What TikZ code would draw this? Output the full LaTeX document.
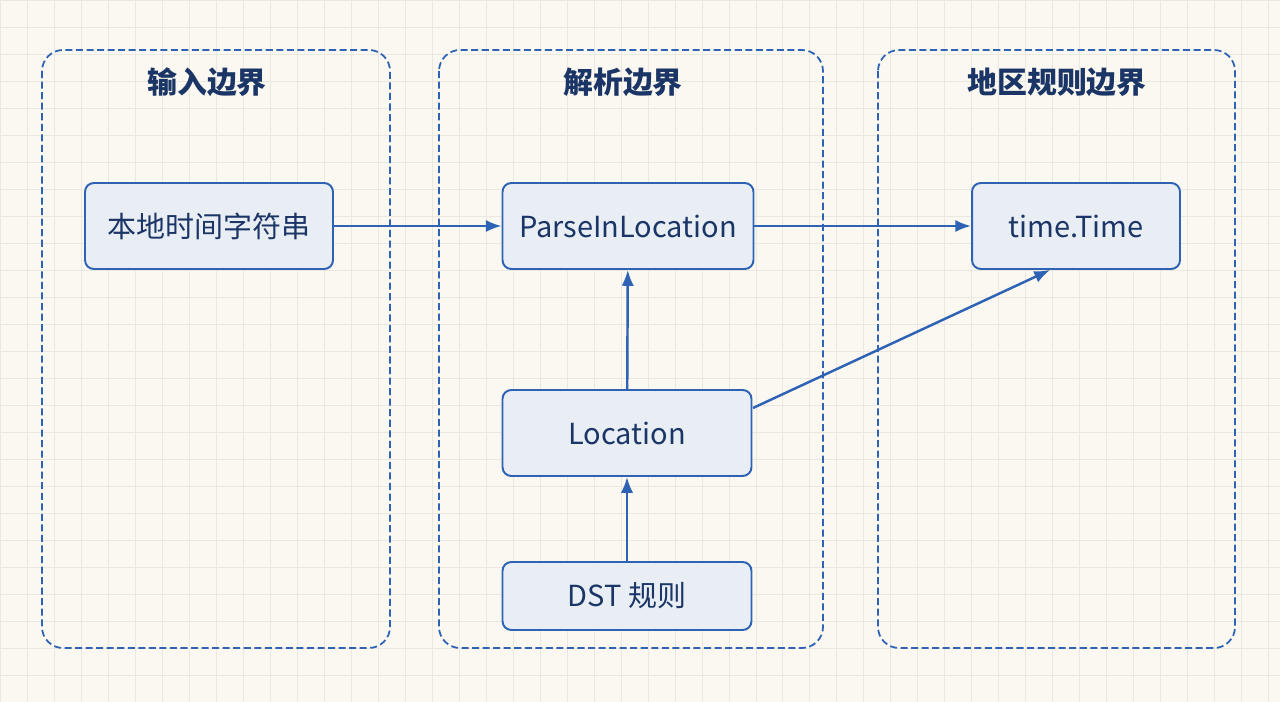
\documentclass[tikz,border=0pt]{standalone}
\usepackage{fontspec}
\setmainfont{Noto Sans CJK SC}
\usetikzlibrary{positioning,arrows.meta}
\definecolor{paper}{HTML}{FAF8F0}
\definecolor{gridc}{HTML}{EAE8E0}
\definecolor{edge}{HTML}{2E62B4}
\definecolor{boxfill}{HTML}{E9EEF5}
\definecolor{ink}{HTML}{1B3566}
\begin{document}
\begin{tikzpicture}[x=0.02cm,y=-0.02cm]
    \tikzset{zone/.style={draw=edge, dash pattern=on 4pt off 2pt, line width=1pt, rounded corners=12pt},
      title/.style={text=ink, font=\bfseries\fontsize{17}{20}\selectfont},
      stage/.style={draw=edge, fill=boxfill, line width=1.1pt, rounded corners=5pt, text=ink,
        font=\fontsize{16.5}{20}\selectfont, minimum height=1.72cm},
      myarrow/.style={-{Latex[length=9pt,width=7pt]}, edge, line width=1.4pt}}

    \fill[paper] (0,0) rectangle (1280,702);
    \useasboundingbox (0,0) rectangle (1280,702);
    \draw[gridc, step=0.54cm] (0,0) grid (1280,702);

    \draw[zone] (42,50) rectangle (390,648);
    \draw[zone] (439,50) rectangle (823,648);
    \draw[zone] (878,50) rectangle (1235,648);
    \node[title] (t1) at (207,82) {输入边界};
    \node[title] (t2) at (623,82) {解析边界};
    \node[title] (t3) at (1057,82) {地区规则边界};

    \node[stage, minimum width=4.96cm] (local) at (209,226) {本地时间字符串};
    \node[stage, minimum width=5.02cm] (parse) at (628,226) {ParseInLocation};
    \node[stage, minimum width=4.16cm] (time) at (1076,226) {time.Time};
    \node[stage, minimum width=4.98cm] (loc) at (627,433) {Location};
    \node[stage, minimum width=4.98cm, minimum height=1.36cm] (dst) at (627,596) {DST 规则};
    \coordinate (locout) at (753,408);
    \coordinate (timein) at (1050,270);

    \draw[myarrow] (local) -- (parse);
    \draw[myarrow] (parse) -- (time);
    \draw[myarrow] (loc) -- (parse);
    \draw[myarrow] (dst) -- (loc);
    \draw[myarrow] (locout) -- (timein);
\end{tikzpicture}
\end{document}
